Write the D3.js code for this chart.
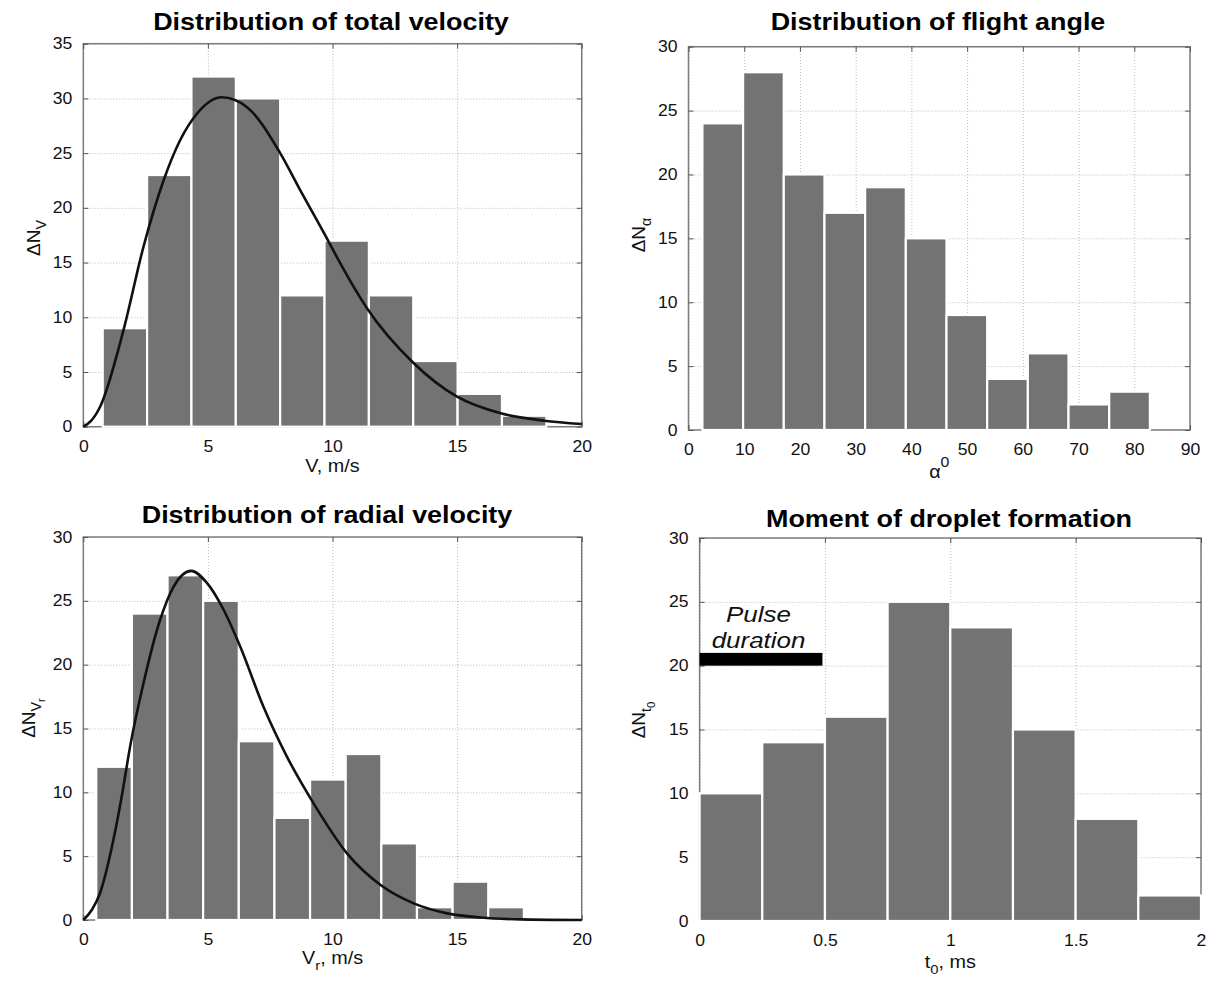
<!doctype html>
<html lang="en">
<head>
<meta charset="UTF-8">
<title>Droplet velocity, angle and formation time distributions</title>
<script src="https://d3js.org/d3.v7.min.js"></script>
<style>
body { margin: 0; background: #fff; }
svg { display: block; }
.grid line { stroke: #b8b8b8; stroke-dasharray: 1,2; }
.frame { fill: none; stroke: #7d7d7d; stroke-width: 1.5; }
.inner line { stroke: #555; }
.bar { fill: #737373; stroke: #fff; stroke-width: 2.2; }
.fit { fill: none; stroke: #111; stroke-width: 2.6; }
text { font-family: "Liberation Sans", Arial, sans-serif; fill: #111; }
.title { font-size: 23px; font-weight: bold; fill: #000; }
.label { font-size: 18px; }
</style>
</head>
<body>
<div id="plot"></div>
<script>

// ---- data ----
var velocityCounts = [9, 23, 32, 30, 12, 17, 12, 6, 3, 1];
var velocityBinStart = 0.78, velocityBinWidth = 1.78;
var velocityFitV = [0, 0.3, 0.67, 1.61, 2.41, 3.22, 3.89, 4.56, 5.56, 6.57, 7.9, 8.71, 9.85, 10.32, 11.39, 13.26, 15.0, 16.75, 18.49, 20];
var velocityFitN = [0, 0.5, 1.8, 8.8, 16.4, 22.5, 26.2, 28.6, 30.1, 29.2, 25.0, 21.6, 16.9, 14.9, 10.8, 5.8, 2.74, 1.22, 0.55, 0.25];

var angleCounts = [24, 28, 20, 17, 19, 15, 9, 4, 6, 2, 3];
var angleBinStart = 2.5, angleBinWidth = 7.3;

var radialCounts = [12, 24, 27, 25, 14, 8, 11, 13, 6, 1, 3, 1];
var radialBinStart = 0.52, radialBinWidth = 1.43;
var radialFitV = [0, 0.34, 0.67, 1.21, 1.54, 1.88, 2.41, 3.08, 3.62, 4.33, 4.96, 5.63, 6.30, 7.23, 8.17, 9.24, 10.59, 11.93, 13.26, 14.6, 15.94, 17.55, 20];
var radialFitN = [0, 0.78, 2.1, 6.3, 9.66, 13.6, 18.5, 23.5, 26.1, 27.35, 26.4, 24.3, 21.4, 16.7, 12.8, 9.14, 5.2, 2.74, 1.3, 0.52, 0.2, 0.05, 0];

var formationCounts = [10, 14, 16, 25, 23, 15, 8, 2];
var formationBinStart = 0, formationBinWidth = 0.25;
var pulseSpan = [0, 0.49];
var pulseLevel = [20, 21];

var ticks20 = [0, 5, 10, 15, 20];
var ticks35 = [0, 5, 10, 15, 20, 25, 30, 35];
var ticks30 = [0, 5, 10, 15, 20, 25, 30];
var ticks90 = [0, 10, 20, 30, 40, 50, 60, 70, 80, 90];
var ticks2 = [0, 0.5, 1, 1.5, 2];

var width = 1209, height = 981;
var sx = 1.1; // the original figure is slightly stretched sideways

var svg = d3.select("#plot").append("svg")
	.attr("width", width)
	.attr("height", height);

var panels = [
	{ left: 83.3, right: 581.7, top: 43.7, bottom: 426.7, xDomain: [0, 20], yDomain: [0, 35],
	  xTicks: ticks20, yTicks: ticks35, counts: velocityCounts, binStart: velocityBinStart, binWidth: velocityBinWidth,
	  fitX: velocityFitV, fitY: velocityFitN,
	  title: "Distribution of total velocity", titleX: 331, titleY: 30,
	  ylab: [["ΔN", 0], ["V", 1]], ylabX: 40, ylabY: 238,
	  xlab: [["V, m/s", 0]], xlabY: 472 },
	{ left: 688.5, right: 1190, top: 46.7, bottom: 430, xDomain: [0, 90], yDomain: [0, 30],
	  xTicks: ticks90, yTicks: ticks30, counts: angleCounts, binStart: angleBinStart, binWidth: angleBinWidth,
	  title: "Distribution of flight angle", titleX: 938, titleY: 30,
	  ylab: [["ΔN", 0], ["α", 1]], ylabX: 645, ylabY: 235,
	  xlab: [["α", 0], ["0", -1]], xlabY: 478 },
	{ left: 83.3, right: 581.7, top: 537, bottom: 920, xDomain: [0, 20], yDomain: [0, 30],
	  xTicks: ticks20, yTicks: ticks30, counts: radialCounts, binStart: radialBinStart, binWidth: radialBinWidth,
	  fitX: radialFitV, fitY: radialFitN,
	  title: "Distribution of radial velocity", titleX: 327, titleY: 523,
	  ylab: [["ΔN", 0], ["V", 1], ["r", 2]], ylabX: 35, ylabY: 718,
	  xlab: [["V", 0], ["r", 1], [", m/s", 0]], xlabY: 964 },
	{ left: 699.6, right: 1201, top: 538, bottom: 921, xDomain: [0, 2], yDomain: [0, 30],
	  xTicks: ticks2, yTicks: ticks30, counts: formationCounts, binStart: formationBinStart, binWidth: formationBinWidth,
	  pulse: true,
	  title: "Moment of droplet formation", titleX: 949, titleY: 527,
	  ylab: [["ΔN", 0], ["t", 1], ["0", 2]], ylabX: 645, ylabY: 720,
	  xlab: [["t", 0], ["0", 1], [", ms", 0]], xlabY: 968 }
];

// writes a label made of pieces at levels 0 (base), 1/2 (sub, subsub), -1 (sup)
function richText(sel, pieces, size) {
	var sizes = { "0": size, "1": size * 0.75, "2": size * 0.6, "-1": size * 0.8 };
	var shift = { "0": 0, "1": size * 0.32, "2": size * 0.55, "-1": -size * 0.6 };
	var cur = 0;
	pieces.forEach(function (p) {
		var lvl = p[1];
		sel.append("tspan")
			.attr("dy", shift[lvl] - cur)
			.style("font-size", sizes[lvl] + "px")
			.text(p[0]);
		cur = shift[lvl];
	});
}

panels.forEach(function (p) {
	var x = d3.scaleLinear().domain(p.xDomain).range([p.left, p.right]);
	var y = d3.scaleLinear().domain(p.yDomain).range([p.bottom, p.top]);
	var g = svg.append("g");
	var h = p.bottom - p.top, w = p.right - p.left;

	// dotted grid
	g.append("g").attr("class", "grid")
		.attr("transform", "translate(0," + p.bottom + ")")
		.call(d3.axisBottom(x).tickValues(p.xTicks).tickSize(-h).tickFormat(""))
		.call(function (a) { a.select(".domain").remove(); });
	g.append("g").attr("class", "grid")
		.attr("transform", "translate(" + p.left + ",0)")
		.call(d3.axisLeft(y).tickValues(p.yTicks).tickSize(-w).tickFormat(""))
		.call(function (a) { a.select(".domain").remove(); });

	g.append("rect").attr("class", "frame")
		.attr("x", p.left).attr("y", p.top)
		.attr("width", w).attr("height", h);

	// inward tick marks on all four sides, labels bottom and left
	var fmt = function (d) { return String(d); };
	var ax = g.append("g").attr("class", "inner")
		.attr("transform", "translate(0," + p.bottom + ")")
		.call(d3.axisBottom(x).tickValues(p.xTicks).tickSize(-5).tickPadding(14).tickFormat(fmt));
	var ay = g.append("g").attr("class", "inner")
		.attr("transform", "translate(" + p.left + ",0)")
		.call(d3.axisLeft(y).tickValues(p.yTicks).tickSize(-5).tickPadding(10).tickFormat(fmt));
	g.append("g").attr("class", "inner")
		.attr("transform", "translate(0," + p.top + ")")
		.call(d3.axisTop(x).tickValues(p.xTicks).tickSize(-5).tickFormat(""));
	g.append("g").attr("class", "inner")
		.attr("transform", "translate(" + p.right + ",0)")
		.call(d3.axisRight(y).tickValues(p.yTicks).tickSize(-5).tickFormat(""));
	g.selectAll(".inner .domain").remove();
	[ax, ay].forEach(function (a) {
		a.attr("font-family", null).attr("font-size", null);
		a.selectAll("text")
			.style("font-size", "16px")
			.attr("fill", "#000")
			.attr("transform", "scale(" + sx + ",1)");
	});

	// histogram bars
	g.selectAll(".bar").data(p.counts).join("rect")
		.attr("class", "bar")
		.attr("x", function (d, i) { return x(p.binStart + i * p.binWidth); })
		.attr("width", function (d, i) { return x(p.binStart + (i + 1) * p.binWidth) - x(p.binStart + i * p.binWidth); })
		.attr("y", function (d) { return y(d); })
		.attr("height", function (d) { return y(0) - y(d); });

	// fitted distribution
	if (p.fitX) {
		var line = d3.line()
			.x(function (d, i) { return x(p.fitX[i]); })
			.y(function (d) { return y(d); })
			.curve(d3.curveMonotoneX);
		g.append("path").attr("class", "fit").attr("d", line(p.fitY));
	}

	if (p.pulse) {
		g.append("rect")
			.attr("x", x(pulseSpan[0])).attr("width", x(pulseSpan[1]) - x(pulseSpan[0]))
			.attr("y", y(pulseLevel[1])).attr("height", y(pulseLevel[0]) - y(pulseLevel[1]))
			.style("fill", "#000");
		var mid = (pulseSpan[0] + pulseSpan[1]) / 2 - 0.01;
		[["Pulse", 23.4], ["duration", 21.4]].forEach(function (t) {
			g.append("text")
				.attr("transform", "translate(" + x(mid) + "," + y(t[1]) + ") scale(1.18,1)")
				.attr("text-anchor", "middle")
				.style("font-size", "22px")
				.style("font-style", "italic")
				.text(t[0]);
		});
	}

	// titles and axis labels
	g.append("text").attr("class", "title")
		.attr("transform", "translate(" + p.titleX + "," + p.titleY + ") scale(1.17,1)")
		.attr("text-anchor", "middle")
		.text(p.title);

	var xl = g.append("text").attr("class", "label")
		.attr("transform", "translate(" + ((p.left + p.right) / 2) + "," + p.xlabY + ") scale(" + sx + ",1)")
		.attr("text-anchor", "middle");
	richText(xl, p.xlab, 18);

	var yl = g.append("text").attr("class", "label")
		.attr("transform", "translate(" + p.ylabX + "," + p.ylabY + ") rotate(-90)")
		.attr("text-anchor", "middle");
	richText(yl, p.ylab, 19);
});

</script>
</body>
</html>
